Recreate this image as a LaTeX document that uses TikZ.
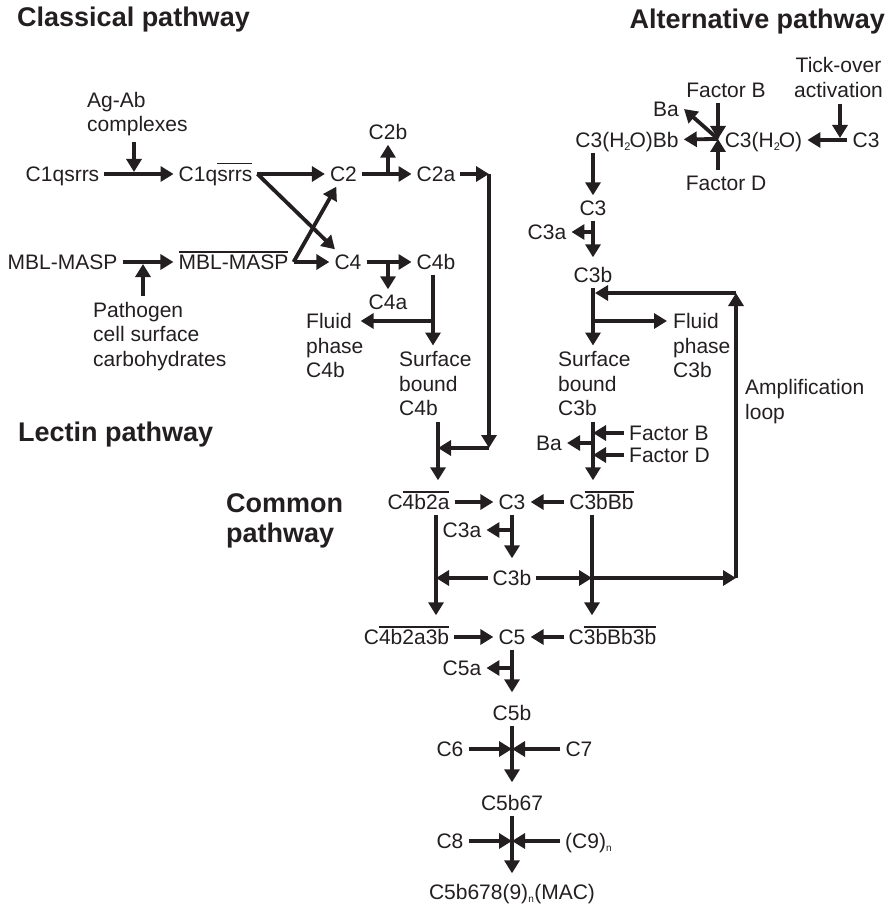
\documentclass[tikz,border=0pt]{standalone}
\usepackage{fontspec}
\setmainfont{Liberation Sans}
\usetikzlibrary{arrows.meta}
\definecolor{ink}{HTML}{231F20}
\newcommand{\olin}[1]{\setbox0\hbox{#1}\rlap{\rule[17pt]{\wd0}{1.8pt}}\box0}
\newcommand{\tinysub}[2][10]{\textsubscript{\fontsize{#1}{#1}\selectfont #2}}
\tikzset{
	sp/.style={font=\fontsize{21}{24.5}\selectfont, inner xsep=5pt, inner ysep=5pt, text height=15pt, text depth=0pt},
	multi/.style={font=\fontsize{21}{24.5}\selectfont, inner sep=6pt, align=left, anchor=north west},
	title/.style={font=\bfseries\fontsize{27}{30}\selectfont, inner sep=0pt, text height=19pt, text depth=0pt},
	titletwo/.style={font=\bfseries\fontsize{27}{30}\selectfont, inner sep=0pt, align=left, anchor=north west},
	arr/.style={line width=3.8pt, -{Triangle[length=13pt,width=15pt]}},
}
\begin{document}
\begin{tikzpicture}[x=1pt, y=-1pt, color=ink]
				\useasboundingbox (0,0) rectangle (888,904);
				
				% Pathway titles
				\node[title, anchor=west] (cls) at (17,17) {Classical pathway};
				\node[title, anchor=east] (alt) at (885,19) {Alternative pathway};
				\node[title, anchor=west] (lec) at (18,432) {Lectin pathway};
				\node[titletwo] (com) at (226,493) {Common\\pathway};
				
				% Classical and lectin start
				\node[multi] (agab) at (81,86) {Ag-Ab\\complexes};
				\node[sp] (c1q) at (62.5,174) {C1qsrrs};
				\node[sp] (c1qa) at (215.5,174) {C1q\olin{srrs}};
				\node[sp] (c2) at (343.5,174) {C2};
				\node[sp] (c2b) at (388,132) {C2b};
				\node[sp] (c2a) at (436,174) {C2a};
				\node[sp] (mbl) at (62.5,262) {MBL-MASP};
				\node[sp] (mbla) at (233.5,262) {\olin{MBL-MASP}};
				\node[multi] (path) at (87,296) {Pathogen\\cell surface\\carbohydrates};
				\node[sp] (c4) at (348,262) {C4};
				\node[sp] (c4b) at (436,262) {C4b};
				\node[sp] (c4a) at (388,302) {C4a};
				\node[multi] (fl4) at (300,307.5) {Fluid\\phase\\C4b};
				\node[multi] (sb4) at (393,345.5) {Surface\\bound\\C4b};
				
				\coordinate (j0) at (143,264);
				\coordinate (j1) at (134,172);
				\coordinate (j4) at (433,321);
				\coordinate (k1) at (489,174);
				\coordinate (k2) at (489,448);
				\coordinate (k3) at (438,448);
				
				\draw[arr] (agab.south -| j1) -- (j1);
				\draw[arr] (c1q) -- (c1qa);
				\draw[arr] (c1qa) -- (c2);
				\draw[arr] (c1qa.east) -- (c4);
				\draw[arr] (c2) -- (c2a);
				\draw[arr] (c2b |- c2) -- (c2b);
				\draw[arr] (c2a) -- (k1);
				\draw[arr] (k1) -- (k2);
				\draw[arr] (k2) -- (k3);
				\draw[arr] (mbl) -- (mbla);
				\draw[arr] (j0 |- path.north) -- (j0);
				\draw[arr] (mbla) -- (c4);
				\draw[arr] (mbla.east) -- (c2);
				\draw[arr] (c4) -- (c4b);
				\draw[arr] (c4a |- c4) -- (c4a);
				\draw[arr] (c4b.south -| j4) -- (j4 |- sb4.north);
				\draw[arr, shorten >=-9pt] (j4) -- (j4 -| fl4.east);
				
				% Alternative pathway
				\node[multi, align=center, anchor=north] (tick) at (838.5,51.5) {Tick-over\\activation};
				\node[sp] (c3r) at (866,140) {C3};
				\node[sp] (c3h) at (763.5,140) {C3(H\tinysub[11]{2}\kern-1.5pt O)};
				\node[sp] (fb) at (726,90) {Factor B};
				\node[sp] (fd) at (726,183) {Factor D};
				\node[sp] (ba1) at (666,109) {Ba};
				\node[sp] (c3hbb) at (627,140) {C3(H\tinysub[11]{2}\kern-1.5pt O)Bb};
				\node[sp] (c3x) at (593,208) {C3};
				\node[sp] (c3ax) at (547,232) {C3a};
				\node[sp] (c3bx) at (593,275) {C3b};
				\node[multi] (fl3) at (667,307.5) {Fluid\\phase\\C3b};
				\node[multi] (sb3) at (552,345.5) {Surface\\bound\\C3b};
				\node[sp, anchor=west] (fb2) at (624,433) {Factor B};
				\node[sp, anchor=west] (fd2) at (624,455) {Factor D};
				\node[sp] (ba2) at (549,443) {Ba};
				\node[multi] (amp) at (739,373.5) {Amplification\\loop};
				
				\coordinate (j5) at (840,138);
				\coordinate (j6) at (718,139);
				\coordinate (j7) at (593,232);
				\coordinate (j8) at (593,321);
				\coordinate (j9) at (595,293);
				
				\draw[arr] (j5 |- tick.south) -- (j5);
				\draw[arr] (c3r) -- (c3h);
				\draw[arr] (j6 |- fb.south) -- (j6);
				\draw[arr] (j6 |- fd.north) -- (j6);
				\draw[arr] (j6) -- (c3hbb);
				\draw[arr] (j6) -- (ba1.east);
				\draw[arr] (c3x |- c3hbb.south) -- (c3x);
				\draw[arr, shorten >=5pt] (c3x) -- (c3bx);
				\draw[arr] (j7) -- (c3ax);
				\draw[arr] (c3bx.south) -- (c3bx |- sb3.north);
				\draw[arr] (j8) -- (fl3.west |- j8);
				\draw[arr] (fb2) -- (fb2 -| c3bx);
				\draw[arr] (fd2) -- (fd2 -| c3bx);
				\draw[arr] (ba2 -| c3bx) -- (ba2);
				
				% Common pathway
				\node[sp] (c4b2a) at (418.5,502) {C\olin{4b2a}};
				\node[sp] (c3m) at (512,502) {C3};
				\node[sp] (c3bbb) at (601.5,502) {C\olin{3bBb}};
				\node[sp] (c3am) at (462,530) {C3a};
				\node[sp] (c3bm) at (512,578) {C3b};
				\node[sp] (c4b2a3b) at (406.5,637) {C\olin{4b2a3b}};
				\node[sp] (c5) at (512,637) {C5};
				\node[sp] (c3bbb3b) at (612.5,637) {C\olin{3bBb3b}};
				\node[sp] (c5a) at (462,668) {C5a};
				\node[sp] (c5b) at (512,713) {C5b};
				\node[sp] (c6) at (450,749) {C6};
				\node[sp] (c7) at (579,749) {C7};
				\node[sp] (c5b67) at (512,803) {C5b67};
				\node[sp] (c8) at (450,841) {C8};
				\node[sp, anchor=west] (c9) at (560,841) {(C9)\tinysub{n}};
				\node[sp] (mac) at (512,892) {C5b678(9)\tinysub{n}(MAC)};
				
				\coordinate (lft) at (436,578);
				\coordinate (rgt) at (592,578);
				\coordinate (amp1) at (736,578);
				\coordinate (amp2) at (736,293);
				
				\draw[arr, shorten >=9pt] (k3 |- sb4.south) -- (k3 |- c4b2a.north);
				\draw[arr, shorten >=9pt] (c3bx |- sb3.south) -- (c3bx |- c3bbb.north);
				\draw[arr] (c4b2a) -- (c3m);
				\draw[arr] (c3bbb) -- (c3m);
				\draw[arr, shorten >=7pt] (c3m) -- (c3bm);
				\draw[arr] (c3am -| c3m) -- (c3am);
				\draw[arr] (c3bm) -- (lft);
				\draw[arr] (c3bm) -- (rgt);
				\draw[arr] (rgt) -- (amp1);
				\draw[arr] (amp1) -- (amp2);
				\draw[arr] (amp2) -- (j9);
				\draw[arr, shorten >=9pt] (c4b2a.south -| lft) -- (c4b2a3b.north -| lft);
				\draw[arr, shorten >=9pt] (c3bbb.south -| rgt) -- (c3bbb3b.north -| rgt);
				\draw[arr] (c4b2a3b) -- (c5);
				\draw[arr] (c3bbb3b) -- (c5);
				\draw[arr, shorten >=8pt] (c5) -- (c5b);
				\draw[arr] (c5a -| c5) -- (c5a);
				
				% Terminal complex
				\draw[arr] (c6) -- (c6 -| c5b);
				\draw[arr] (c7) -- (c7 -| c5b);
				\draw[arr, shorten >=8pt] (c5b) -- (c5b67);
				\draw[arr] (c8) -- (c8 -| c5b67);
				\draw[arr] (c9) -- (c9 -| c5b67);
				\draw[arr, shorten >=6pt] (c5b67) -- (mac);
\end{tikzpicture}
\end{document}
